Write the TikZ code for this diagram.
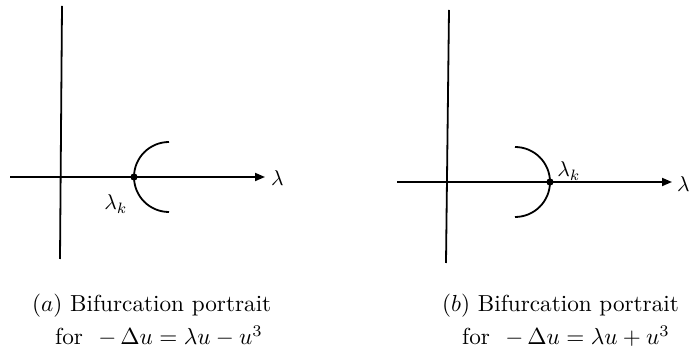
\documentclass[tikz,border=0pt]{standalone}
\usepackage{amsmath}
\usetikzlibrary{arrows.meta}
\newcommand{\capscale}[1]{\scalebox{2.32}{\fontsize{10}{12}\selectfont #1}}
\newcommand{\lblscale}[1]{\scalebox{2.15}{\fontsize{10}{12}\selectfont #1}}
\begin{document}
\begin{tikzpicture}[x=1pt,y=-1pt,
  axis/.style={line width=1.8pt},
  arr/.style={line width=1.8pt,-{Triangle[length=10pt,width=8pt]}},
  branch/.style={line width=1.8pt},
  lbl/.style={inner sep=1pt},
  captxt/.style={inner sep=0pt,anchor=west}]
\useasboundingbox (0,0) rectangle (689,352);
% left panel
\coordinate (aT) at (62,6);
\coordinate (aB) at (60,259);
\coordinate (aL) at (10,177);
\coordinate (aR) at (265,177);
\draw[axis] (aT) -- (aB);
\draw[arr] (aL) -- (aR);
\node[lbl,anchor=west] (alam) at (270,178) {\lblscale{$\lambda$}};
\coordinate (ap) at (134,177);
\draw[branch] (169,142) arc[start angle=270,end angle=90,radius=35];
\fill (ap) circle (3.6pt);
\node[lbl] (alk) at (116,204) {\lblscale{$\lambda_k$}};
% right panel
\coordinate (bT) at (449,10);
\coordinate (bB) at (446,263);
\coordinate (bL) at (397,182);
\coordinate (bR) at (672,182);
\draw[axis] (bT) -- (bB);
\draw[arr] (bL) -- (bR);
\node[lbl,anchor=west] (blam) at (676,184) {\lblscale{$\lambda$}};
\coordinate (bp) at (550,182);
\draw[branch] (515,147) arc[start angle=270,end angle=450,radius=35];
\fill (bp) circle (3.6pt);
\node[lbl] (blk) at (569,171) {\lblscale{$\lambda_k$}};
% captions
\node[captxt] (ca1) at (32,306) {\capscale{$(a)$ Bifurcation portrait}};
\node[captxt] (ca2) at (55,336) {\capscale{for \ $-\,\Delta u=\lambda u-u^3$}};
\node[captxt] (cb1) at (442,306) {\capscale{$(b)$ Bifurcation portrait}};
\node[captxt] (cb2) at (462,336) {\capscale{for \ $-\,\Delta u=\lambda u+u^3$}};
\end{tikzpicture}
\end{document}
